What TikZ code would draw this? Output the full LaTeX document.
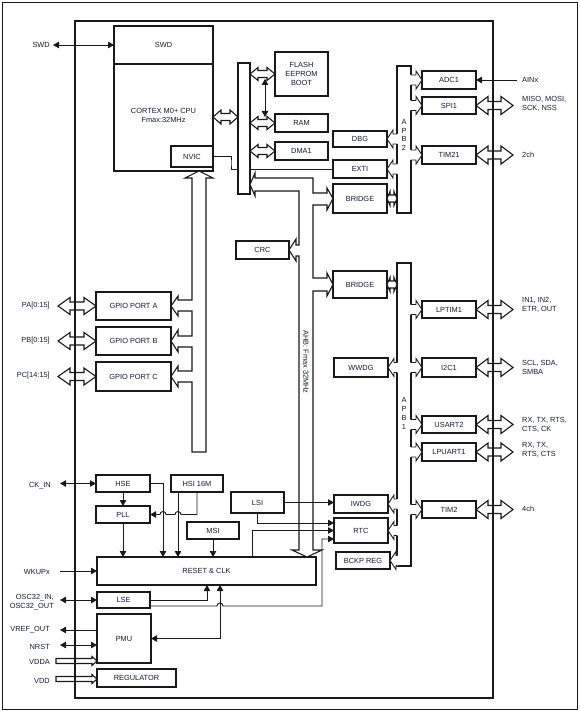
\documentclass[tikz,border=0pt]{standalone}
\usepackage{fontspec}
\setmainfont{Liberation Sans}
\usetikzlibrary{arrows.meta,calc}
\definecolor{tc}{RGB}{22,26,50}
\definecolor{lc}{RGB}{25,25,25}
\newcommand\dfs{\fontsize{7.4}{9}\selectfont}
\newcommand\bx[6]{\node[box,minimum width={(#4-#2)*1pt},minimum height={(#5-#3)*1pt}] (#1) at ({(#2+#4)/2},{(#3+#5)/2}) {#6};}
% tap from bar east to box west
\newcommand\tapR[2]{%
 \fill[white] let \p1=(#2.west), \p2=(#1.east) in ({\x2-1.2pt},{\y1+5pt}) -- ({\x1-6pt},{\y1+5pt}) -- ({\x1-6pt},{\y1+9pt}) -- (\x1,\y1) -- ({\x1-6pt},{\y1-9pt}) -- ({\x1-6pt},{\y1-5pt}) -- ({\x2-1.2pt},{\y1-5pt}) -- cycle;
 \draw[ln] let \p1=(#2.west), \p2=(#1.east) in (\x2,{\y1+5pt}) -- ({\x1-6pt},{\y1+5pt}) -- ({\x1-6pt},{\y1+9pt}) -- (\x1,\y1) -- ({\x1-6pt},{\y1-9pt}) -- ({\x1-6pt},{\y1-5pt}) -- (\x2,{\y1-5pt});}
% tap from bar west to box east
\newcommand\tapL[2]{%
 \fill[white] let \p1=(#2.east), \p2=(#1.west) in ({\x2+1.2pt},{\y1+5pt}) -- ({\x1+6pt},{\y1+5pt}) -- ({\x1+6pt},{\y1+9pt}) -- (\x1,\y1) -- ({\x1+6pt},{\y1-9pt}) -- ({\x1+6pt},{\y1-5pt}) -- ({\x2+1.2pt},{\y1-5pt}) -- cycle;
 \draw[ln] let \p1=(#2.east), \p2=(#1.west) in (\x2,{\y1+5pt}) -- ({\x1+6pt},{\y1+5pt}) -- ({\x1+6pt},{\y1+9pt}) -- (\x1,\y1) -- ({\x1+6pt},{\y1-9pt}) -- ({\x1+6pt},{\y1-5pt}) -- (\x2,{\y1-5pt});}
% hollow double arrow: [style] p1 p2 shaft head len
\newcommand\hdbl[6][]{%
 \draw[hol,#1] let \p1=(#2), \p2=(#3) in (\x1,\y1) -- ({\x1+#6pt},{\y1+#5pt}) -- ({\x1+#6pt},{\y1+#4pt}) -- ({\x2-#6pt},{\y1+#4pt}) -- ({\x2-#6pt},{\y1+#5pt}) -- (\x2,\y1) -- ({\x2-#6pt},{\y1-#5pt}) -- ({\x2-#6pt},{\y1-#4pt}) -- ({\x1+#6pt},{\y1-#4pt}) -- ({\x1+#6pt},{\y1-#5pt}) -- cycle;}
\newcommand\thinarr[2]{%
 \draw[hol,fill=none] let \p1=(#1), \p2=(#2) in (\x1,{\y1+2.5pt}) -- ({\x2-5pt},{\y1+2.5pt}) -- ({\x2-5pt},{\y1+4.5pt}) -- (\x2,\y1) -- ({\x2-5pt},{\y1-4.5pt}) -- ({\x2-5pt},{\y1-2.5pt}) -- (\x1,{\y1-2.5pt}) -- cycle;}
\begin{document}
\begin{tikzpicture}[x=1pt,y=-1pt,
  box/.style={draw=lc,line width=1.1pt,fill=white,inner sep=0pt,outer sep=0pt,font=\dfs,text=tc,align=center},
  ln/.style={draw=lc,line width=0.95pt},
  arr/.style={ln,-{Triangle[length=6pt,width=6.5pt]}},
  darr/.style={ln,{Triangle[length=6pt,width=6.5pt]}-{Triangle[length=6pt,width=6.5pt]}},
  hol/.style={draw=lc,line width=1.1pt,fill=white,line join=miter},
  lbl/.style={font=\dfs,text=tc,inner sep=0pt,align=left},
]
\useasboundingbox (0,0) rectangle (579,711);
\draw[lc,line width=0.6pt] (2,2) rectangle (577,709);
\draw[lc,line width=1.1pt] (75,21) rectangle (493,698);

% core boxes
\bx{cpu}{114}{26}{213}{171}{}
\draw[lc,line width=1.1pt] (cpu.west |- 0,64) -- (cpu.east |- 0,64);
\node[lbl] (swdt) at (163.5,45) {SWD};
\node[lbl,align=center] (cput) at (163.5,115) {CORTEX M0+ CPU\\Fmax:32MHz};
\bx{nvic}{171}{146}{213}{167}{NVIC}
\bx{flash}{275}{52}{328}{96}{FLASH\\EEPROM\\BOOT}
\bx{ram}{275}{114}{328}{132}{RAM}
\bx{dma}{275}{142}{328}{160}{DMA1}
\bx{dbg}{333}{131}{387}{147}{DBG}
\bx{exti}{333}{160}{387}{178}{EXTI}
\bx{bra}{333}{184}{387}{213}{BRIDGE}
\bx{adc}{422}{71}{476}{89}{ADC1}
\bx{spi}{422}{97}{476}{114}{SPI1}
\bx{tim21}{422}{146}{476}{164}{TIM21}
\bx{crc}{236}{241}{289}{259}{CRC}
\bx{brb}{333}{271}{387}{298}{BRIDGE}
\bx{lptim}{422}{301}{476}{318}{LPTIM1}
\bx{itwoc}{422}{358}{476}{377}{I2C1}
\bx{usart}{422}{416}{476}{433}{USART2}
\bx{lpuart}{422}{443}{476}{461}{LPUART1}
\bx{timtwo}{422}{501}{476}{518}{TIM2}
\bx{wwdg}{334}{358}{388}{377}{WWDG}
\bx{iwdg}{334}{495}{388}{513}{IWDG}
\bx{rtc}{334}{518}{388}{543}{RTC}
\bx{bckp}{336}{552}{390}{569}{BCKP REG}
\bx{gpa}{96}{292}{171}{320}{GPIO PORT A}
\bx{gpb}{96}{327}{171}{355}{GPIO PORT B}
\bx{gpc}{96}{362}{171}{391}{GPIO PORT C}
\bx{hse}{96}{475}{150}{492}{HSE}
\bx{hsi}{171}{475}{223}{492}{HSI 16M}
\bx{pll}{96}{506}{150}{523}{PLL}
\bx{lsi}{231}{492}{284}{513}{LSI}
\bx{msi}{187}{522}{239}{539}{MSI}
\bx{rst}{97}{557}{316}{585}{RESET \& CLK}
\bx{lse}{97}{592}{150}{608}{LSE}
\bx{pmu}{97}{614}{151}{663}{PMU}
\bx{reg}{97}{669}{176}{687}{REGULATOR}

% NVIC to EXTI
\coordinate (c7) at (231,163);
\draw[ln] (nvic.east) -| (c7) |- (exti.west);

% AHB bar
\bx{ahbbar}{238}{63}{250}{194}{}
\coordinate (cy) at (0,117);
\hdbl{cy -| cpu.east}{cy -| ahbbar.west}{3.5}{7}{8}
\hdbl{ahbbar.east |- flash.west}{flash.west}{3.5}{6.5}{8}
\hdbl{ahbbar.east |- ram.west}{ram.west}{3.5}{6.5}{8}
\hdbl{ahbbar.east |- dma.west}{dma.west}{3.5}{6.5}{8}
\coordinate (fr1) at (265,79);
\coordinate (fr2) at (265,117);
\draw[darr] (fr1) -- (fr2);

% AHB hollow bus
\draw[hol] (255,178) -- (313,178) -- (313,193) -- (327,193) -- (327,188) -- (333,198.5) -- (327,210) -- (327,205) -- (313,205)
  -- (313,278) -- (327,278) -- (327,273) -- (333,284.5) -- (327,296) -- (327,291) -- (313,291)
  -- (313,550) -- (322,550) -- (307,557) -- (292,550) -- (299,550)
  -- (299,256) -- (296,256) -- (296,261) -- (289,250) -- (296,239) -- (296,245) -- (299,245)
  -- (299,191) -- (255,191) -- (255,196) -- (250,184.5) -- (255,173) -- cycle;
\node[lbl,rotate=-90] (ahbt) at (306,362) {AHB: Fmax 32MHz};

% GPIO hollow bus
\draw[hol] (199,171) -- (213,178) -- (206,178) -- (206,452) -- (192,452) -- (192,382)
  -- (178,382) -- (178,387) -- (171,376.5) -- (178,366) -- (178,371) -- (192,371) -- (192,347)
  -- (178,347) -- (178,352) -- (171,341) -- (178,330) -- (178,336) -- (192,336) -- (192,311)
  -- (178,311) -- (178,316) -- (171,306) -- (178,296) -- (178,300) -- (192,300) -- (192,178)
  -- (185,178) -- cycle;

% APB2
\bx{apbtwo}{397}{66}{411}{213}{}
\tapR{apbtwo}{adc}
\tapR{apbtwo}{spi}
\tapR{apbtwo}{tim21}
\tapL{apbtwo}{dbg}
\tapL{apbtwo}{exti}
\hdbl{bra.east}{bra.east -| apbtwo.west}{3.5}{7}{3}
\node[lbl,align=center,font=\fontsize{7.4}{8.7}\selectfont] (apb2t) at (404,135) {A\\P\\B\\2};

% APB1
\bx{apbone}{397}{263}{411}{566}{}
\tapR{apbone}{lptim}
\tapR{apbone}{itwoc}
\tapR{apbone}{usart}
\tapR{apbone}{lpuart}
\tapR{apbone}{timtwo}
\tapL{apbone}{wwdg}
\tapL{apbone}{iwdg}
\tapL{apbone}{rtc}
\tapL{apbone}{bckp}
\hdbl{brb.east}{brb.east -| apbone.west}{3.5}{7}{3}
\node[lbl,align=center,font=\fontsize{7.4}{8.7}\selectfont] (apb1t) at (404,413.5) {A\\P\\B\\1};

% clock connections
\draw[arr] (hse.south) -- (pll.north);
\coordinate (c1) at (163,557);
\draw[arr] (hse.east) -| (c1);
\coordinate (c2) at (178,492);
\draw[arr] (c2) -- (c2 |- rst.north);
\draw[arr] (hsi.south) -- ++(0,22.5) -- (181,514.5) arc[start angle=0,end angle=180,radius=3pt] -- (166,514.5) arc[start angle=0,end angle=180,radius=3pt] -- (pll.east);
\draw[arr] (pll.south) -- (pll.south |- rst.north);
\draw[arr] (msi.south) -- (msi.south |- rst.north);
\coordinate (c3) at (207,585);
\draw[arr] (lse.east) -| (c3);
\coordinate (c4) at (220,638.5);
\draw[darr] (c4 |- rst.south) -- (c4) -- (c4 -| pmu.east);
\coordinate (c5) at (322,606);
\draw[arr] ([yshift=-6pt]lse.east) -- (217,606) arc[start angle=180,end angle=0,radius=3pt] -- (c5) |- ([yshift=-8.5pt]rtc.west);
\draw[arr] (lsi.east) -- (lsi.east -| iwdg.west);
\draw[arr] (lsi.south) |- ([yshift=7.5pt]rtc.west);
\coordinate (c6) at (252,557);
\draw[arr] (c6) |- (rtc.west);

% left external
\coordinate (xl) at (58,0);
\coordinate (xr) at (513,0);
\coordinate (swdE) at (53,45);
\draw[darr] (swdE) -- (swdE -| cpu.west);
\node[lbl,anchor=east] (swdl) at (50,45) {SWD};
\hdbl[fill=none]{gpa.west -| xl}{gpa.west}{4}{8.5}{12}
\hdbl[fill=none]{gpb.west -| xl}{gpb.west}{4}{8.5}{12}
\hdbl[fill=none]{gpc.west -| xl}{gpc.west}{4}{8.5}{12}
\node[lbl,anchor=east] (pal) at (50,306) {PA[0:15]};
\node[lbl,anchor=east] (pbl) at (50,341) {PB[0:15]};
\node[lbl,anchor=east] (pcl) at (50,376) {PC[14:15]};
\coordinate (ckE) at (60,483.5);
\draw[darr] (ckE) -- (hse.west);
\node[lbl,anchor=east] (ckl) at (51,486) {CK\_IN};
\coordinate (wkE) at (60,571);
\draw[arr] (wkE) -- (rst.west);
\node[lbl,anchor=east] (wkl) at (50,572) {WKUPx};
\coordinate (oscE) at (60,600);
\draw[darr] (oscE) -- (lse.west);
\node[lbl,anchor=east,align=right] (oscl) at (54,602) {OSC32\_IN,\\OSC32\_OUT};
\coordinate (vrE) at (60,630);
\draw[arr] (vrE -| pmu.west) -- (vrE);
\node[lbl,anchor=east] (vrl) at (50,630) {VREF\_OUT};
\coordinate (nrE) at (60,645);
\draw[darr] (nrE) -- (nrE -| pmu.west);
\node[lbl,anchor=east] (nrl) at (50,647) {NRST};
\coordinate (vdaE) at (56,661);
\thinarr{vdaE}{vdaE -| pmu.west}
\node[lbl,anchor=east] (vdal) at (50,662) {VDDA};
\coordinate (vdE) at (56,679);
\thinarr{vdE}{vdE -| reg.west}
\node[lbl,anchor=east] (vdl) at (50,681) {VDD};

% right external
\coordinate (ain) at (517,80);
\draw[arr] (ain) -- (ain -| adc.east);
\node[lbl,anchor=west] (ainl) at (522,80) {AINx};
\hdbl[fill=none]{spi.east}{spi.east -| xr}{4}{9}{12}
\node[lbl,anchor=west] (spil) at (522,104) {MISO, MOSI,\\SCK, NSS};
\hdbl[fill=none]{tim21.east}{tim21.east -| xr}{4}{9}{12}
\node[lbl,anchor=west] (t21l) at (522,155) {2ch};
\hdbl[fill=none]{lptim.east}{lptim.east -| xr}{4}{9}{12}
\node[lbl,anchor=west] (lptl) at (522,305) {IN1, IN2,\\ETR, OUT};
\hdbl[fill=none]{itwoc.east}{itwoc.east -| xr}{4}{9}{12}
\node[lbl,anchor=west] (i2cl) at (522,367) {SCL, SDA,\\SMBA};
\hdbl[fill=none]{usart.east}{usart.east -| xr}{4}{9}{12}
\node[lbl,anchor=west] (usl) at (522,424.5) {RX, TX, RTS,\\CTS, CK};
\hdbl[fill=none]{lpuart.east}{lpuart.east -| xr}{4}{9}{12}
\node[lbl,anchor=west] (lpul) at (522,449.5) {RX, TX,\\RTS, CTS};
\hdbl[fill=none]{timtwo.east}{timtwo.east -| xr}{4}{9}{12}
\node[lbl,anchor=west] (t2l) at (522,509) {4ch};
\end{tikzpicture}
\end{document}
